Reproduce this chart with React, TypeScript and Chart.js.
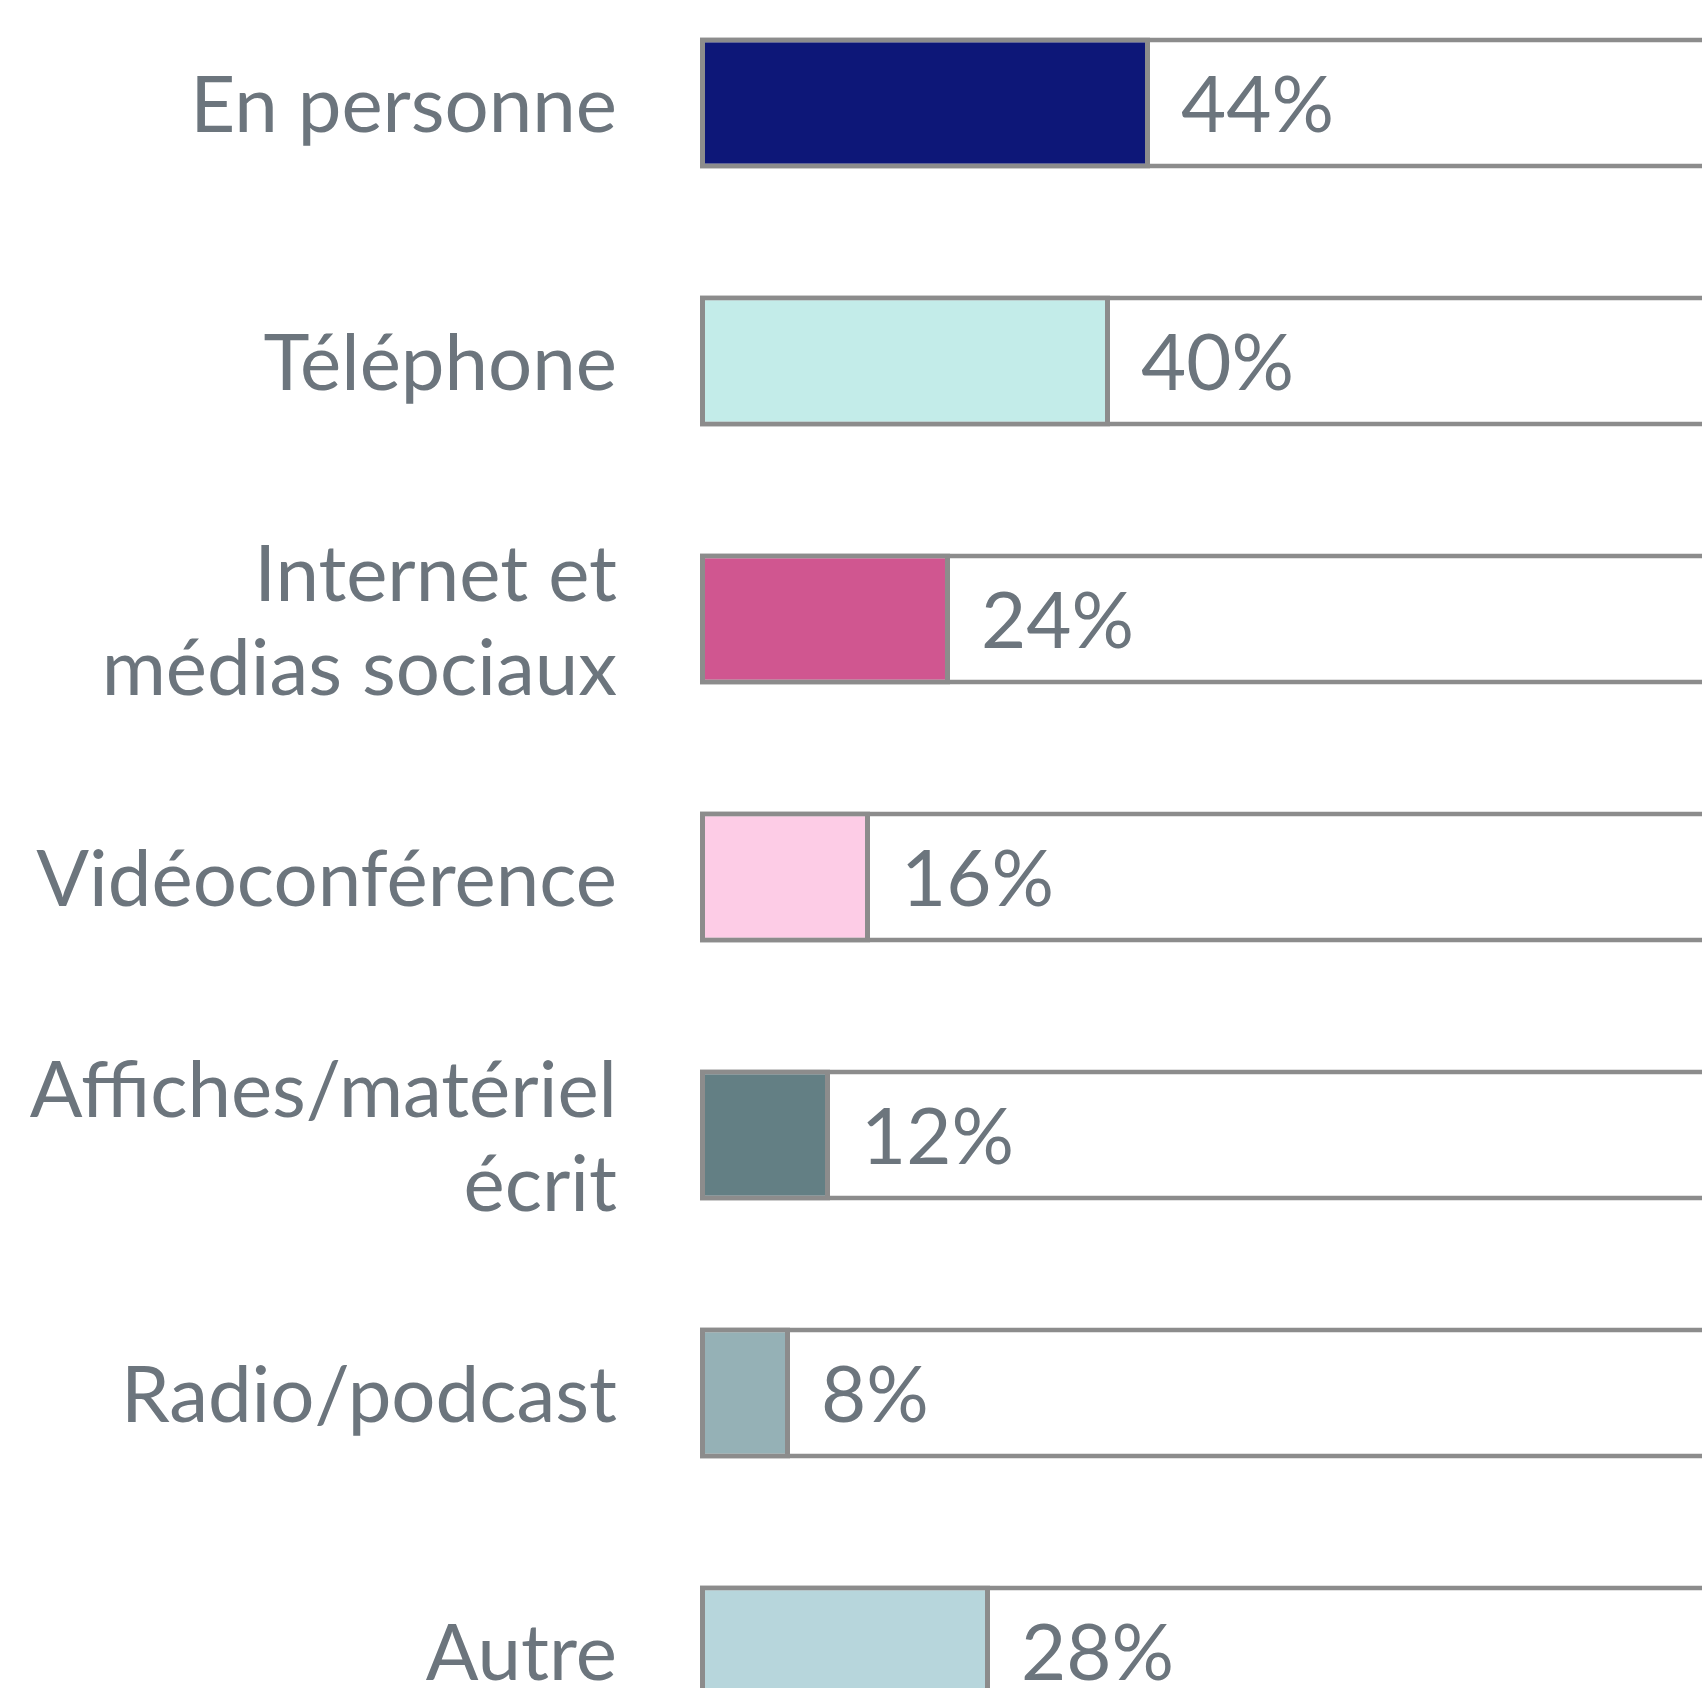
import React, { useEffect, useRef } from "react";
import { Chart, registerables } from "chart.js";

Chart.register(...registerables);

const CATEGORIES: (string | string[])[] = [
  "En personne",
  "Téléphone",
  ["Internet et", "médias sociaux"],
  "Vidéoconférence",
  ["Affiches/matériel", "écrit"],
  "Radio/podcast",
  "Autre",
];
const VALUES = [44, 40, 24, 16, 12, 8, 28];
const TRACK = [100, 100, 100, 100, 100, 100, 100];
const BAR_COLORS = ["#0d1778", "#c3ece9", "#d05690", "#fdcce6", "#637f84", "#95b1b6", "#b7d6dc"];
const AXIS_MIN = -1;
const AXIS_MAX = 100;

const TEXT_COLOR = "#6c757d";
const BORDER_COLOR = "#8c8c8c";
const FONT_FAMILY = "Lato";
const FONT_SIZE = 78;

const valueLabels = {
  id: "valueLabels",
  afterDatasetsDraw(chart: any) {
    const meta = chart.getDatasetMeta(0);
    const ctx = chart.ctx;
    ctx.save();
    ctx.font = `${FONT_SIZE}px ${FONT_FAMILY}`;
    ctx.fillStyle = TEXT_COLOR;
    ctx.textAlign = "left";
    ctx.textBaseline = "middle";
    meta.data.forEach((el: any, i: number) => {
      ctx.fillText(`${VALUES[i]}%`, el.x + 31, el.y + 4);
    });
    ctx.restore();
  },
};

export default function App() {
  const ref = useRef<HTMLCanvasElement | null>(null);
  useEffect(() => {
    if (!ref.current) return;
    const chart = new Chart(ref.current, {
      type: "bar",
      data: {
        labels: CATEGORIES as any,
        datasets: [
          {
            data: VALUES,
            backgroundColor: BAR_COLORS,
            borderColor: BORDER_COLOR,
            borderWidth: 5,
            borderSkipped: false,
            grouped: false,
            base: AXIS_MIN,
            categoryPercentage: 1,
            barPercentage: 0.508,
          } as any,
          {
            data: TRACK,
            backgroundColor: "#ffffff",
            borderColor: BORDER_COLOR,
            borderWidth: 5,
            borderSkipped: false,
            grouped: false,
            base: AXIS_MIN,
            categoryPercentage: 1,
            barPercentage: 0.508,
          } as any,
        ],
      },
      options: {
        indexAxis: "y",
        animation: false,
        responsive: false,
        layout: { padding: { top: 174, bottom: 150, left: 0, right: 0 } },
        plugins: { legend: { display: false }, tooltip: { enabled: false }, title: { display: false } },
        scales: {
          x: { display: false, min: AXIS_MIN, max: AXIS_MAX },
          y: {
            grid: { display: false, drawTicks: false },
            border: { display: false },
            ticks: {
              padding: 83,
              labelOffset: 4,
              color: TEXT_COLOR,
              font: { family: FONT_FAMILY, size: FONT_SIZE, lineHeight: 1.21 },
            },
            afterFit: (scale: any) => {
              scale.width = 700;
            },
          },
        },
      },
      plugins: [valueLabels],
    });
    return () => chart.destroy();
  }, []);

  return (
    <div
      style={{
        position: "fixed",
        left: 0,
        top: 0,
        width: 1702,
        height: 1688,
        overflow: "hidden",
        background: "#ffffff",
      }}
    >
      <canvas
        ref={ref}
        width={1710}
        height={2130}
        style={{ position: "absolute", left: 0, top: -200, width: 1710, height: 2130 }}
      />
    </div>
  );
}
